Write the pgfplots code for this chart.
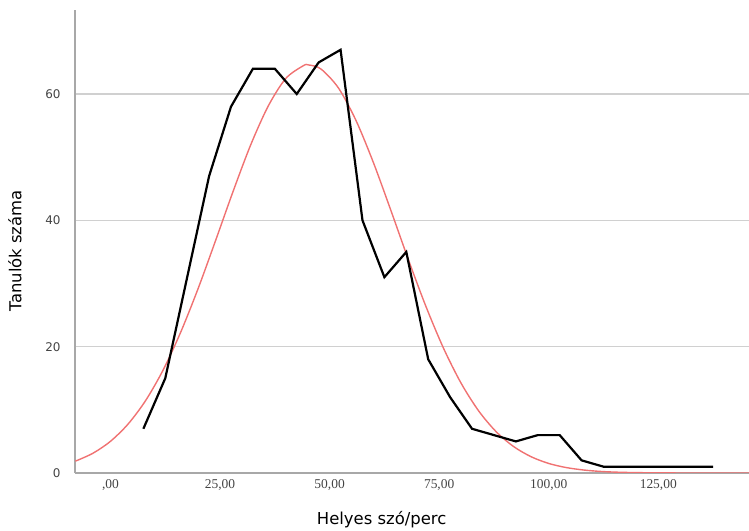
\documentclass[border=0pt]{standalone}
\usepackage{fontspec}
\usepackage{pgfplots}
\pgfplotsset{compat=1.18}
\setmainfont{DejaVu Sans}
\newfontfamily\tickfont{Liberation Serif}
\newfontfamily\labfont{DejaVu Sans}
\definecolor{spine}{HTML}{A8A8A8}
\definecolor{gridc}{HTML}{D0D0D0}
\definecolor{fitred}{HTML}{F07272}
\definecolor{ticktxt}{HTML}{444444}
\begin{document}
\begin{tikzpicture}
\useasboundingbox (0,0) rectangle (749bp,531bp);
\begin{axis}[
  at={(75bp,58bp)}, anchor=south west,
  scale only axis, width=674bp, height=463bp,
  xmin=-8.1, xmax=145.7, ymin=0, ymax=73.3,
  axis x line*=bottom, axis y line*=left,
  axis line style={spine, line width=1.6bp, -},
  xtick={0,25,50,75,100,125},
  xticklabels={{,00},{25,00},{50,00},{75,00},{100,00},{125,00}},
  ytick={0,20,40,60},
  yticklabels={0,20,40,60},
  major tick length=0pt,
  ymajorgrids, grid style={gridc, line width=1.1bp},
  xticklabel style={font=\tickfont\fontsize{13.5}{13.5}\selectfont, text=ticktxt, yshift=-3bp},
  yticklabel style={font=\labfont\fontsize{12}{12}\selectfont, text=ticktxt, xshift=-11bp},
  xlabel={Helyes szó/perc},
  ylabel={Tanulók száma},
  xlabel style={font=\labfont\fontsize{16.5}{16.5}\selectfont, at={(axis description cs:0.455,-0.1015)}, anchor=center},
  ylabel style={font=\labfont\fontsize{16.5}{16.5}\selectfont, at={(axis description cs:-0.089,0.48)}, anchor=center, rotate=0},
  clip=true,
]
\addplot[fitred, line width=1.4bp, smooth] coordinates {
(-8,1.88) (-4,3.13) (0,5.02) (4,7.74) (8,11.45) (12,16.29) (16,22.26) (20,29.21)
(24,36.84) (28,44.63) (32,51.96) (36,58.10) (40,62.46) (44,64.48) (45.2,64.6)
(48,63.97) (52,60.97) (56,55.84) (60,49.13) (64,41.53) (68,33.73) (72,26.33)
(76,19.74) (80,14.22) (84,9.84) (88,6.54) (92,4.18) (96,2.57) (100,1.51)
(104,0.86) (108,0.47) (112,0.24) (116,0.12) (120,0.06) (124,0.03) (128,0.01)
(132,0.005) (138,0.002) (146,0.0)
};
\addplot[black, line width=2.2bp, line join=miter] coordinates {
(7.5,7) (12.5,15) (17.5,31) (22.5,47) (27.5,58) (32.5,64) (37.5,64) (42.5,60)
(47.5,65) (52.5,67) (57.5,40) (62.5,31) (67.5,35) (72.5,18) (77.5,12) (82.5,7)
(87.5,6) (92.5,5) (97.5,6) (102.5,6) (107.5,2) (112.5,1) (117.5,1) (122.5,1)
(127.5,1) (132.5,1) (137.5,1)
};
\end{axis}
\end{tikzpicture}
\end{document}
